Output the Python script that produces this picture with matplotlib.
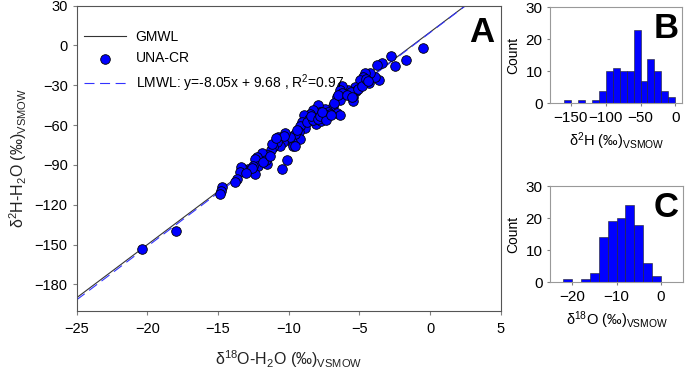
import numpy as np
from matplotlib import pyplot as plt

plt.rcParams['font.family'] = ['Liberation Sans', 'DejaVu Sans']
plt.rcParams['mathtext.fontset'] = 'custom'
plt.rcParams['mathtext.rm'] = 'Liberation Sans'
plt.rcParams['mathtext.it'] = 'Liberation Sans:italic'

# scatter data, d18O and d2H (permil VSMOW)
d18O = [-0.52, -1.70, -2.78, -2.45, -3.42, -3.73, -3.63, -4.29, -4.25, -3.90,
        -4.25, -4.60, -4.72, -4.95, -5.30, -5.25, -5.42, -5.42, -5.78, -6.25,
        -6.37, -6.60, -6.37, -6.84, -6.56, -6.37, -7.43, -7.43, -7.90, -7.78,
        -8.14, -8.25, -8.53, -8.05, -8.90, -8.60, -8.84, -9.08, -9.20, -9.30,
        -9.20, -9.55, -9.80, -9.67, -9.55, -9.90, -10.26, -10.10, -10.50, -10.38,
        -10.60, -10.73, -10.85, -11.08, -11.27, -11.20, -11.50, -11.75, -11.90, -11.55,
        -12.05, -12.26, -12.38, -12.15, -12.50, -12.38, -12.85, -13.20, -13.40, -13.44,
        -13.68, -13.80, -14.74, -14.80, -14.86, -17.97, -20.40,
        -12.60, -13.00, -11.60, -11.85, -11.30, -10.30, -10.90, -9.40,
        -8.70, -8.30, -8.45, -7.60, -7.70, -7.90, -7.25, -7.50, -7.10, -7.80,
        -7.35, -7.65, -7.00, -6.80, -6.20, -6.50, -5.60, -5.90, -5.10, -5.50,
        -4.80, -4.50, -4.40]
d2H = [-1.8, -11.1, -7.8, -15.6, -13.1, -14.4, -26.2, -28.5, -23.7, -23.7,
       -20.5, -21.0, -23.7, -26.2, -31.3, -34.3, -38.8, -42.1, -33.8, -30.2,
       -33.8, -38.8, -40.8, -45.9, -50.9, -52.2, -47.6, -55.2, -45.1, -50.2,
       -52.7, -48.4, -51.4, -59.0, -52.7, -55.2, -62.3, -57.7, -61.0, -65.3,
       -70.3, -66.5, -72.8, -75.4, -75.9, -69.1, -66.0, -86.2, -93.0, -72.8,
       -75.4, -69.1, -72.8, -76.6, -78.4, -74.6, -82.2, -84.2, -81.2, -89.2,
       -86.7, -84.2, -85.4, -90.5, -90.5, -96.8, -93.0, -93.0, -91.8, -95.5,
       -100.6, -103.1, -106.9, -109.4, -111.9, -139.6, -153.5,
       -92.5, -96.0, -86.0, -87.5, -83.0, -68.5, -69.5, -63.5,
       -58.0, -56.5, -53.5, -52.0, -57.0, -55.5, -50.5, -53.5, -51.5, -53.0,
       -56.0, -50.5, -52.5, -43.5, -36.0, -37.0, -35.0, -37.5, -32.5, -39.0,
       -30.5, -25.0, -27.0]

gmwl_slope, gmwl_intercept = 8.0, 10.0
lmwl_slope, lmwl_intercept = 8.05, 9.68

# histogram B (d2H)
h_edges = [-160, -150, -140, -130, -120, -110, -100, -90, -80, -70, -60, -50, -40, -30, -20, -10, 0]
h_counts = [1, 0, 1, 0, 1, 4, 10, 11, 10, 10, 23, 7, 14, 10, 4, 2]

# histogram C (d18O)
o_edges = [-22, -20, -18, -16, -14, -12, -10, -8, -6, -4, -2, 0]
o_counts = [1, 0, 1, 3, 14, 19, 20, 24, 18, 6, 2]

blue = '#0000ff'
frame = '#808080'

fig = plt.figure(figsize=(6.85, 3.72), dpi=100)

ax = fig.add_axes([0.112, 0.164, 0.619, 0.821])
xs = np.array([-25, 5])
ax.plot(xs, gmwl_slope * xs + gmwl_intercept, color='#333333', lw=0.8, label='GMWL')
ax.scatter(d18O, d2H, s=48, color=blue, edgecolor='black', linewidth=0.6, zorder=3, label='UNA-CR')
ax.plot(xs, lmwl_slope * xs + lmwl_intercept, color='#3333ff', lw=0.8, dashes=(9, 5),
        label='LMWL: y=-8.05x + 9.68 , R$^2$=0.97')
ax.set_xlim(-25, 5)
ax.set_ylim(-200, 30)
ax.set_xticks(range(-25, 6, 5))
ax.set_yticks(range(-180, 31, 30))
ax.tick_params(labelsize=10.5, length=3, color=frame)
ax.tick_params(axis='x', pad=5)
for s in ax.spines.values():
    s.set_color('#555555')
    s.set_linewidth(0.8)
ax.set_xlabel('δ$^{\\mathrm{18}}$O-H$_\\mathrm{2}$O (‰)$_{\\mathrm{VSMOW}}$', fontsize=11.5,
              color='#222222', labelpad=9)
ax.set_ylabel('δ$^\\mathrm{2}$H-H$_\\mathrm{2}$O (‰)$_{\\mathrm{VSMOW}}$', fontsize=11.5, color='#222222')
ax.legend(loc='upper left', bbox_to_anchor=(-0.012, 0.96), frameon=False, fontsize=10,
          handlelength=3.0, handletextpad=0.7, labelspacing=0.5)
ax.text(0.985, 0.965, 'A', transform=ax.transAxes, ha='right', va='top', fontsize=25, fontweight='bold')

axB = fig.add_axes([0.803, 0.722, 0.193, 0.258])
axB.bar(h_edges[:-1], h_counts, width=np.diff(h_edges), align='edge', color=blue,
        edgecolor='#222222', linewidth=0.4)
axB.set_xlim(-180, 10)
axB.set_ylim(0, 30)
axB.set_xticks([-150, -100, -50, 0])
axB.set_yticks([0, 10, 20, 30])
axB.set_ylabel('Count', fontsize=10)
axB.set_xlabel('δ$^\\mathrm{2}$H (‰)$_{\\mathrm{VSMOW}}$', fontsize=10.5)
axB.text(0.97, 0.95, 'B', transform=axB.transAxes, ha='right', va='top', fontsize=25, fontweight='bold')

axC = fig.add_axes([0.803, 0.241, 0.194, 0.259])
axC.bar(o_edges[:-1], o_counts, width=np.diff(o_edges), align='edge', color=blue,
        edgecolor='#222222', linewidth=0.4)
axC.set_xlim(-25, 5)
axC.set_ylim(0, 30)
axC.set_xticks([-20, -10, 0])
axC.set_yticks([0, 10, 20, 30])
axC.set_ylabel('Count', fontsize=10)
axC.set_xlabel('δ$^{\\mathrm{18}}$O (‰)$_{\\mathrm{VSMOW}}$', fontsize=10.5)
axC.text(0.97, 0.95, 'C', transform=axC.transAxes, ha='right', va='top', fontsize=25, fontweight='bold')

for a in (axB, axC):
    a.tick_params(labelsize=11, length=2, color=frame)
    for s in a.spines.values():
        s.set_color('#999999')
        s.set_linewidth(0.8)

fig.savefig('out.png', dpi=100)
